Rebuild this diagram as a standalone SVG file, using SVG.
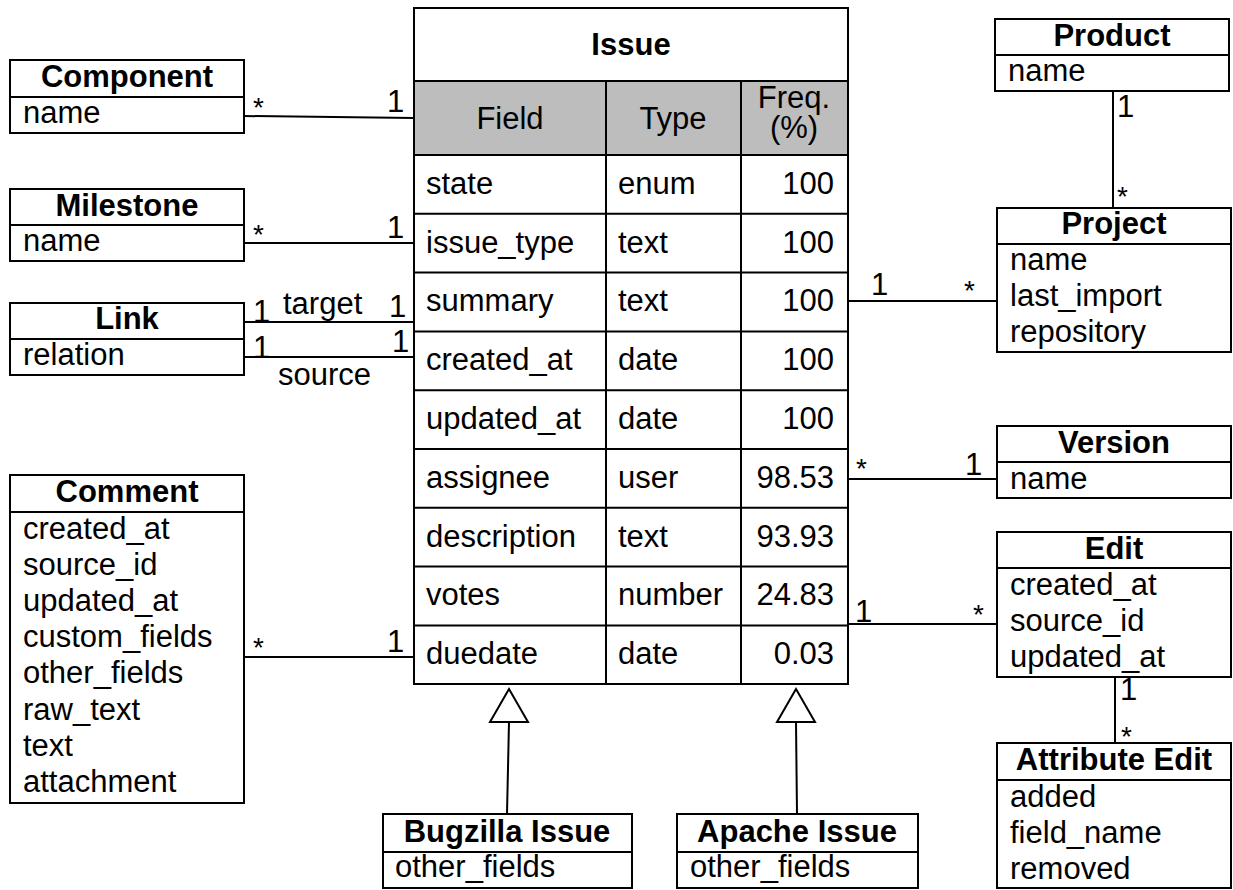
<svg xmlns="http://www.w3.org/2000/svg" width="1233" height="890" viewBox="0 0 1233 890">
  <style>
    text { font-family: "Liberation Sans", Arial, Helvetica, sans-serif; font-size: 31px; fill: #000; }
    .title { font-weight: bold; text-anchor: middle; }
    .mid { text-anchor: middle; }
    .num { text-anchor: end; }
    .star { font-size: 28px; }
    .box { fill: #fff; stroke: #000; stroke-width: 2; }
    .sep { stroke: #000; stroke-width: 2; fill: none; }
    .hdr { fill: #bdbdbd; stroke: #000; stroke-width: 2; }
    .conn line { stroke: #000; stroke-width: 2; fill: none; }
    .conn polygon { fill: #fff; stroke: #000; stroke-width: 2; }
  </style>
  <rect width="1233" height="890" fill="#fff"/>

  <!-- associations and generalizations -->
  <g id="connectors" class="conn">
    <line x1="244" y1="116" x2="414" y2="118"/>
    <line x1="244" y1="243" x2="414" y2="243"/>
    <line x1="244" y1="322" x2="414" y2="322"/>
    <line x1="244" y1="357" x2="414" y2="357"/>
    <line x1="244" y1="657" x2="414" y2="657"/>
    <line x1="848" y1="301" x2="997" y2="301"/>
    <line x1="848" y1="479" x2="997" y2="479"/>
    <line x1="848" y1="624" x2="997" y2="624"/>
    <line x1="1113" y1="91" x2="1113" y2="208"/>
    <line x1="1115" y1="677" x2="1115" y2="743"/>
    <line x1="509" y1="722" x2="507" y2="814"/>
    <polygon points="509,689 490,722 528,722"/>
    <line x1="796" y1="722" x2="797" y2="814"/>
    <polygon points="796,689 777,722 815,722"/>
  </g>

  <!-- multiplicities and role names -->
  <g id="labels">
    <text class="star" x="253" y="117">*</text>
    <text x="387" y="112">1</text>
    <text class="star" x="253" y="244">*</text>
    <text x="387" y="238">1</text>
    <text x="253" y="322">1</text>
    <text x="283" y="314">target</text>
    <text x="389" y="317">1</text>
    <text x="253" y="358">1</text>
    <text x="392" y="352">1</text>
    <text x="278" y="385">source</text>
    <text class="star" x="253" y="657">*</text>
    <text x="387" y="652">1</text>
    <text x="1117" y="117">1</text>
    <text class="star" x="1117" y="206">*</text>
    <text x="871" y="295">1</text>
    <text class="star" x="964" y="300">*</text>
    <text class="star" x="856" y="478">*</text>
    <text x="965" y="475">1</text>
    <text x="855" y="622">1</text>
    <text class="star" x="973" y="624">*</text>
    <text x="1120" y="700">1</text>
    <text class="star" x="1121" y="746">*</text>
  </g>

  <!-- Issue table -->
  <g id="issue">
    <rect class="box" x="414" y="8" width="434" height="676"/>
    <rect class="hdr" x="414" y="81" width="434" height="74"/>
    <line class="sep" x1="414" y1="213.8" x2="848" y2="213.8"/>
    <line class="sep" x1="414" y1="272.6" x2="848" y2="272.6"/>
    <line class="sep" x1="414" y1="331.4" x2="848" y2="331.4"/>
    <line class="sep" x1="414" y1="390.2" x2="848" y2="390.2"/>
    <line class="sep" x1="414" y1="449" x2="848" y2="449"/>
    <line class="sep" x1="414" y1="507.8" x2="848" y2="507.8"/>
    <line class="sep" x1="414" y1="566.6" x2="848" y2="566.6"/>
    <line class="sep" x1="414" y1="625.4" x2="848" y2="625.4"/>
    <line class="sep" x1="606" y1="81" x2="606" y2="684"/>
    <line class="sep" x1="741" y1="81" x2="741" y2="684"/>
    <text class="title" x="631" y="55">Issue</text>
    <text class="mid" x="510" y="129">Field</text>
    <text class="mid" x="673" y="129">Type</text>
    <text class="mid"><tspan x="794" y="108">Freq.</tspan><tspan x="794" y="138">(%)</tspan></text>

    <text x="426" y="194">state</text><text x="618" y="194">enum</text><text class="num" x="834" y="194">100</text>
    <text x="426" y="253">issue_type</text><text x="618" y="253">text</text><text class="num" x="834" y="253">100</text>
    <text x="426" y="311">summary</text><text x="618" y="311">text</text><text class="num" x="834" y="311">100</text>
    <text x="426" y="370">created_at</text><text x="618" y="370">date</text><text class="num" x="834" y="370">100</text>
    <text x="426" y="429">updated_at</text><text x="618" y="429">date</text><text class="num" x="834" y="429">100</text>
    <text x="426" y="488">assignee</text><text x="618" y="488">user</text><text class="num" x="834" y="488">98.53</text>
    <text x="426" y="547">description</text><text x="618" y="547">text</text><text class="num" x="834" y="547">93.93</text>
    <text x="426" y="605">votes</text><text x="618" y="605">number</text><text class="num" x="834" y="605">24.83</text>
    <text x="426" y="664">duedate</text><text x="618" y="664">date</text><text class="num" x="834" y="664">0.03</text>
  </g>

  <g id="component">
    <rect class="box" x="10" y="60" width="234" height="73"/>
    <line class="sep" x1="10" y1="97" x2="244" y2="97"/>
    <text class="title" x="127" y="87">Component</text>
    <text x="23" y="123">name</text>
  </g>

  <g id="milestone">
    <rect class="box" x="10" y="189" width="234" height="72"/>
    <line class="sep" x1="10" y1="225" x2="244" y2="225"/>
    <text class="title" x="127" y="216">Milestone</text>
    <text x="23" y="251">name</text>
  </g>

  <g id="link">
    <rect class="box" x="10" y="303" width="234" height="72"/>
    <line class="sep" x1="10" y1="339" x2="244" y2="339"/>
    <text class="title" x="127" y="329">Link</text>
    <text x="23" y="365">relation</text>
  </g>

  <g id="comment">
    <rect class="box" x="10" y="475" width="234" height="328"/>
    <line class="sep" x1="10" y1="512" x2="244" y2="512"/>
    <text class="title" x="127" y="502">Comment</text>
    <text x="23" y="539">created_at</text>
    <text x="23" y="575">source_id</text>
    <text x="23" y="611">updated_at</text>
    <text x="23" y="647">custom_fields</text>
    <text x="23" y="683">other_fields</text>
    <text x="23" y="720">raw_text</text>
    <text x="23" y="756">text</text>
    <text x="23" y="792">attachment</text>
  </g>

  <g id="product">
    <rect class="box" x="995" y="19" width="234" height="72"/>
    <line class="sep" x1="995" y1="55" x2="1229" y2="55"/>
    <text class="title" x="1112" y="46">Product</text>
    <text x="1008" y="81">name</text>
  </g>

  <g id="project">
    <rect class="box" x="997" y="208" width="234" height="144"/>
    <line class="sep" x1="997" y1="244" x2="1231" y2="244"/>
    <text class="title" x="1114" y="234">Project</text>
    <text x="1010" y="270">name</text>
    <text x="1010" y="306">last_import</text>
    <text x="1010" y="342">repository</text>
  </g>

  <g id="version">
    <rect class="box" x="997" y="426" width="234" height="72"/>
    <line class="sep" x1="997" y1="462" x2="1231" y2="462"/>
    <text class="title" x="1114" y="453">Version</text>
    <text x="1010" y="489">name</text>
  </g>

  <g id="edit">
    <rect class="box" x="997" y="532" width="234" height="145"/>
    <line class="sep" x1="997" y1="568" x2="1231" y2="568"/>
    <text class="title" x="1114" y="559">Edit</text>
    <text x="1010" y="595">created_at</text>
    <text x="1010" y="631">source_id</text>
    <text x="1010" y="667">updated_at</text>
  </g>

  <g id="attribute-edit">
    <rect class="box" x="997" y="743" width="234" height="145"/>
    <line class="sep" x1="997" y1="780" x2="1231" y2="780"/>
    <text class="title" x="1114" y="770">Attribute Edit</text>
    <text x="1010" y="807">added</text>
    <text x="1010" y="843">field_name</text>
    <text x="1010" y="879">removed</text>
  </g>

  <g id="bugzilla-issue">
    <rect class="box" x="383" y="814" width="249" height="74"/>
    <line class="sep" x1="383" y1="852" x2="632" y2="852"/>
    <text class="title" x="507" y="842">Bugzilla Issue</text>
    <text x="395" y="877">other_fields</text>
  </g>

  <g id="apache-issue">
    <rect class="box" x="677" y="814" width="241" height="74"/>
    <line class="sep" x1="677" y1="852" x2="918" y2="852"/>
    <text class="title" x="797" y="842">Apache Issue</text>
    <text x="690" y="877">other_fields</text>
  </g>
</svg>
